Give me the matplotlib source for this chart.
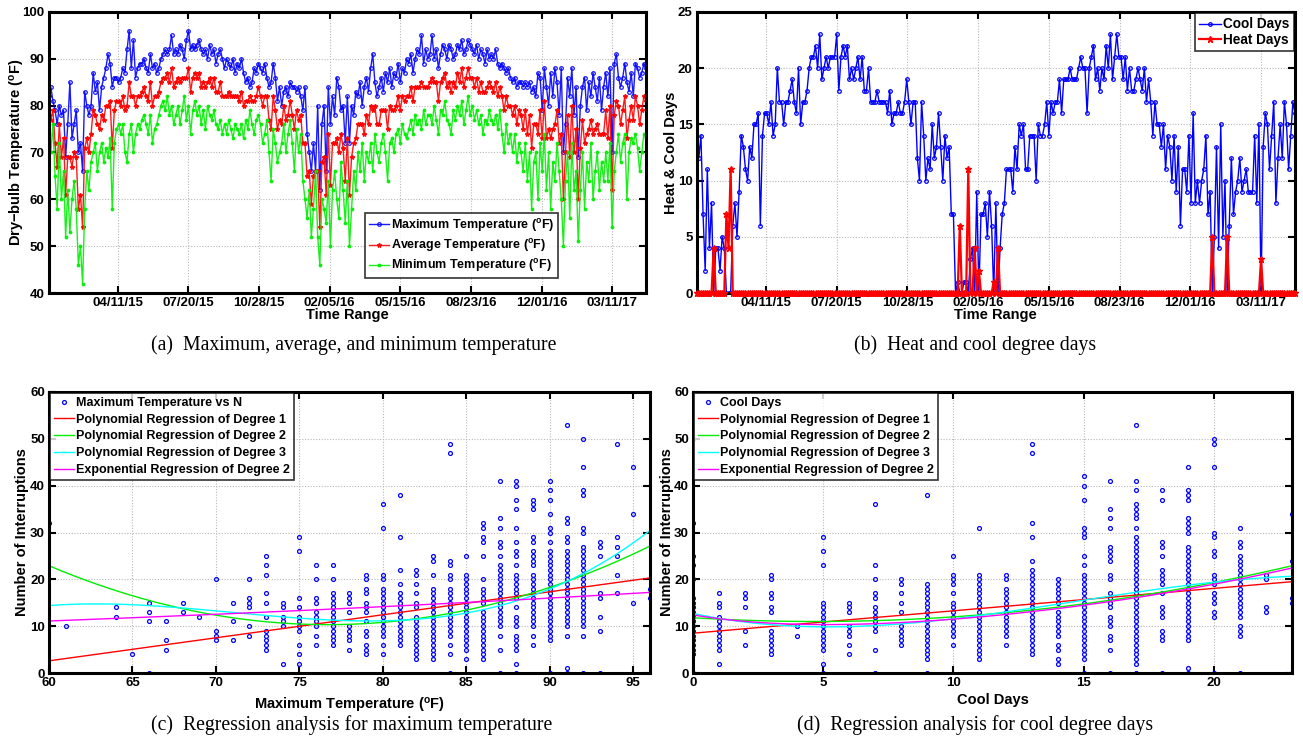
import numpy as np
import matplotlib
matplotlib.use("Agg")
import matplotlib.pyplot as plt

# ---------------- data ----------------
date_start = "2015-01-03"
step_days = 3

tmax = [82,84,81,79,76,80,78,79,69,76,
        85,73,76,79,70,72,66,83,80,78,
        80,87,83,85,79,84,86,88,91,89,
        84,86,86,85,86,88,87,92,96,88,
        94,86,88,89,89,90,88,87,91,88,
        89,87,88,90,91,92,91,92,95,91,
        92,91,93,92,90,94,96,92,93,92,
        93,94,92,91,92,90,93,91,92,89,
        91,92,90,88,90,89,88,90,87,89,
        88,90,87,85,86,84,85,88,87,89,
        88,87,89,86,84,85,89,86,81,84,
        80,83,84,82,85,84,84,83,84,82,
        79,84,74,70,66,72,66,80,62,76,
        80,66,84,76,82,78,86,84,79,80,
        72,82,72,80,78,83,82,85,80,84,
        86,83,88,91,85,82,84,86,83,87,
        85,88,84,87,86,89,85,88,87,90,
        89,91,87,90,92,91,95,89,92,90,
        91,95,90,92,88,91,93,92,90,93,
        92,90,91,93,92,94,91,92,94,93,
        92,91,93,90,92,91,89,92,90,91,
        90,92,89,88,89,88,87,88,86,85,
        86,84,85,85,84,85,84,85,83,84,
        82,87,86,79,88,84,80,87,82,88,
        85,78,88,70,76,86,82,88,78,84,
        69,80,84,86,79,85,82,87,84,81,
        86,79,84,87,82,88,70,89,91,86,
        84,86,89,85,83,87,82,89,88,86,
        87,89,88]

tmin = [74,70,76,65,58,72,60,66,52,62,
        53,60,64,58,46,50,42,58,66,62,
        68,70,72,66,70,72,68,71,69,73,
        58,72,75,76,74,76,70,68,74,76,
        70,74,76,75,77,78,76,74,78,72,
        75,76,78,80,81,79,82,78,80,76,
        78,80,76,79,82,77,80,74,79,81,
        78,80,76,79,75,80,78,77,79,76,
        75,77,74,76,74,77,75,73,76,75,
        74,76,73,77,75,79,76,74,77,78,
        76,72,74,77,70,64,75,72,68,70,
        72,76,70,74,77,72,66,75,70,74,
        64,60,56,62,52,58,66,52,46,60,
        58,55,64,50,62,66,60,56,68,62,
        55,64,50,58,66,62,70,66,72,64,
        70,68,72,66,74,70,68,72,74,70,
        64,72,73,70,74,75,72,76,74,73,
        75,77,74,78,76,77,75,79,76,78,
        78,76,80,77,74,79,78,81,77,76,
        74,79,77,80,78,81,76,79,82,78,
        80,77,79,76,78,74,77,76,79,77,
        76,78,75,79,74,70,76,72,74,70,
        74,68,72,70,66,72,64,70,58,68,
        70,60,72,66,74,62,70,58,68,64,
        72,66,60,50,64,70,56,72,62,66,
        51,62,70,58,68,64,72,60,66,70,
        62,68,64,70,64,72,54,66,70,74,
        68,72,74,60,70,73,72,74,71,66,
        70,74,73]

base_temp = 65
tick_dates = ["2015-04-11", "2015-07-20", "2015-10-28", "2016-02-05",
              "2016-05-15", "2016-08-23", "2016-12-01", "2017-03-11"]
tick_labels = ["04/11/15", "07/20/15", "10/28/15", "02/05/16",
               "05/15/16", "08/23/16", "12/01/16", "03/11/17"]

# scatter (c): max temperature vs number of interruptions
c_temps = [60, 61, 64, 65, 66, 67, 68, 69, 70, 71, 72, 73, 74, 75, 76, 77, 78, 79,
           80, 81, 82, 83, 84, 85, 86, 87, 88, 89, 90, 91, 92, 93, 94, 95, 96]
c_counts = [
    [32], [10], [14, 12], [4], [15, 13, 11, 0], [11, 7, 5], [15, 13], [12],
    [20, 9, 8, 7], [15, 11, 7], [20, 16, 15, 14, 10, 8],
    [25, 23, 21, 17, 15, 12, 9, 8, 7, 6, 5],
    [15, 14, 12, 11, 10, 2],
    [29, 26, 16, 14, 12, 11, 10, 9, 6, 4, 2],
    [23, 20, 16, 15, 13, 12, 11, 10, 8, 6],
    [23, 20, 17, 16, 15, 14, 13, 12, 11, 10, 9, 8, 7, 6],
    [17, 16, 15, 13, 10, 9, 8, 7, 5],
    [21, 20, 18, 17, 15, 14, 13, 11, 9, 8, 6, 5, 4],
    [36, 31, 21, 20, 18, 17, 16, 15, 14, 13, 12, 11, 10, 9, 8, 6, 4],
    [38, 29, 22, 19, 17, 16, 15, 14, 13, 12, 11, 10, 9, 8, 7, 6],
    [22, 21, 19, 17, 15, 14, 12, 11, 10, 9, 8, 7, 6, 5, 4, 3],
    [25, 24, 21, 18, 17, 16, 15, 14, 13, 12, 11, 10, 9, 8, 7, 6, 5, 4, 3],
    [49, 47, 24, 23, 21, 20, 18, 17, 16, 15, 14, 13, 12, 11, 10, 9, 8, 6, 4, 0],
    [25, 21, 20, 19, 18, 17, 16, 15, 14, 13, 12, 11, 10, 9, 8, 7, 6, 5, 3],
    [32, 31, 29, 28, 25, 20, 18, 17, 16, 15, 13, 12, 11, 10, 9, 8, 7, 6, 5, 4, 3],
    [41, 33, 31, 28, 27, 25, 23, 22, 21, 20, 19, 18, 17, 16, 15, 14, 13, 12, 11, 10, 8, 5, 0],
    [41, 40, 37, 35, 31, 28, 26, 25, 23, 21, 20, 19, 18, 17, 16, 14, 12, 11, 10, 8, 7, 6, 5, 2, 0],
    [37, 36, 35, 29, 28, 26, 25, 24, 23, 21, 20, 19, 18, 17, 16, 15, 14, 13, 12, 11, 10, 8, 6],
    [41, 39, 37, 34, 31, 30, 28, 26, 25, 24, 23, 22, 21, 20, 19, 18, 17, 16, 15, 14, 13, 12, 11, 10, 9, 8, 7, 0],
    [53, 33, 32, 29, 28, 26, 25, 24, 23, 22, 21, 20, 19, 18, 17, 16, 15, 14, 13, 12, 11, 10, 8, 1, 0],
    [50, 44, 39, 38, 31, 30, 27, 26, 25, 24, 23, 22, 21, 20, 19, 18, 17, 16, 15, 14, 13, 12, 11, 10, 8, 0],
    [28, 27, 25, 17, 16, 12, 9, 0],
    [49, 29, 27, 25, 21, 17],
    [44, 34, 15],
    [18, 16],
]

# scatter (d): cool days vs number of interruptions
d_days = list(range(0, 24))
d_counts = [
    [50, 32, 25, 23, 20, 16, 15, 14, 13, 12, 11, 10, 9, 8, 7, 6, 5, 4, 0],
    [17, 15, 14, 12, 11, 10, 9, 8, 7, 6, 5, 2],
    [17, 16, 14, 9, 6],
    [21, 20, 17, 16, 14, 13, 9, 8, 7, 6, 5, 4],
    [10, 8],
    [29, 26, 23, 15, 14, 13, 12, 11, 10, 9, 8, 7, 6, 5, 2, 0],
    [15, 14, 13, 10, 9, 8, 6, 4],
    [36, 23, 20, 17, 16, 14, 13, 12, 11, 10, 9, 5, 0],
    [20, 19, 17, 15, 13, 10, 9, 8, 7, 6],
    [38, 19, 18, 17, 16, 15, 14, 13, 12, 11, 10, 9, 8, 7, 6, 5, 4, 3, 0],
    [25, 21, 20, 19, 17, 15, 14, 13, 12, 11, 10, 9, 8, 6],
    [31, 21, 20, 19, 18, 17, 16, 15, 14, 13, 12, 11, 10, 9, 8, 7, 6, 5, 4, 3],
    [21, 20, 18, 17, 16, 15, 14, 13, 12, 11, 10, 9, 8, 6],
    [49, 47, 32, 29, 24, 22, 21, 20, 19, 18, 17, 16, 15, 14, 13, 12, 11, 10, 9, 8, 7, 6, 5, 4],
    [20, 19, 18, 17, 16, 15, 13, 12, 11, 10, 9, 8, 6, 5, 3, 2],
    [42, 40, 37, 31, 30, 29, 25, 23, 21, 20, 19, 18, 17, 16, 15, 14, 13, 12, 11, 10, 9, 8, 7, 6, 5, 4, 3, 0],
    [41, 35, 33, 31, 27, 26, 25, 24, 21, 20, 17, 16, 15, 14, 12, 11, 10, 8, 7, 5, 0],
    [53, 41, 39, 36, 35, 34, 33, 31, 29, 28, 27, 26, 25, 24, 23, 22, 21, 20, 19, 18, 17, 16,
     15, 14, 13, 12, 11, 10, 9, 8, 7, 6, 5, 4, 3, 2, 0],
    [39, 37, 28, 27, 25, 22, 21, 20, 19, 17, 14, 13, 12, 9, 8, 7, 0],
    [44, 39, 38, 37, 33, 32, 31, 30, 27, 26, 25, 24, 23, 22, 21, 20, 19, 18, 17, 16, 15, 14,
     13, 12, 11, 10, 9, 8, 7, 1, 0],
    [50, 49, 44, 30, 29, 26, 25, 21, 20, 19, 17, 16, 15, 13, 12, 0],
    [31, 28, 27, 25, 24, 23, 22, 21, 20, 19, 18, 17, 16, 15, 14, 13, 12, 10, 9, 8, 0],
    [21, 20, 14, 13],
    [34, 24, 16, 15, 0],
]

# regression curves (anchor values / coefficients)
c_deg1_x, c_deg1_y = [60, 96], [2.6, 20.3]
c_deg2_x, c_deg2_y = [60, 78, 96], [22.9, 10.4, 27.1]
c_deg3_x = [60, 65, 70, 75, 80, 85, 90, 96]
c_deg3_y = [14.4, 14.5, 13.5, 11.5, 11.2, 12.7, 18.1, 30.4]
c_exp2 = [5.35, 0.01217, 0.0, 0.0]          # a*exp(b*x) + c*exp(d*x)

d_deg1_x, d_deg1_y = [0, 23], [8.5, 19.5]
d_deg2_x, d_deg2_y = [0, 5, 23], [11.8, 11.0, 22.9]
d_deg3_x = [0, 6, 10, 15, 20, 23]
d_deg3_y = [12.7, 10.0, 11.5, 15.5, 19.5, 20.6]
d_exp2 = [6.4, -0.2, 6.0, 0.0572]

# ---------------- style ----------------
plt.rcParams["font.family"] = ["Liberation Sans", "DejaVu Sans"]
plt.rcParams["font.weight"] = "bold"
plt.rcParams["axes.labelweight"] = "bold"
plt.rcParams["mathtext.fontset"] = "custom"
plt.rcParams["mathtext.rm"] = "Liberation Sans:bold"
plt.rcParams["mathtext.it"] = "Liberation Sans:bold"
plt.rcParams["mathtext.default"] = "rm"

BLUE, RED, GREEN, CYAN, MAG = "#0000ff", "#ff0000", "#00ee00", "#00ffff", "#ff00ff"
W, H = 1303, 745
fig = plt.figure(figsize=(W / 100, H / 100), dpi=100)


def box(l, t, r, b):
    return fig.add_axes([l / W, 1 - b / H, (r - l) / W, (b - t) / H])


def matlab(ax):
    for s in ax.spines.values():
        s.set_linewidth(2.2)
    ax.tick_params(direction="in", length=5, width=1.5, top=True, right=True,
                   labelsize=9.5, pad=3)
    for lab in ax.get_xticklabels() + ax.get_yticklabels():
        lab.set_fontweight("bold")
    ax.grid(True, linestyle=(0, (1, 1.5)), color="#b8b8b8", linewidth=0.8)
    ax.set_axisbelow(True)


def legend(ax, pad=0.2, size=9, spacing=0.25, **kw):
    lg = ax.legend(fontsize=size, frameon=True, fancybox=False, borderpad=0.3,
                   handlelength=1.6, handletextpad=0.2, labelspacing=spacing,
                   borderaxespad=pad, **kw)
    lg.get_frame().set_edgecolor("black")
    lg.get_frame().set_linewidth(1.2)
    lg.set_zorder(5)
    for t in lg.get_texts():
        t.set_fontweight("bold")
    return lg


tmax_a = np.array(tmax, dtype=float)
tmin_a = np.array(tmin, dtype=float)
tavg_a = np.floor((tmax_a + tmin_a) / 2 + 0.5)
cool = np.maximum(tavg_a - base_temp, 0)
heat = np.maximum(base_temp - tavg_a, 0)
dates = np.datetime64(date_start) + np.arange(len(tmax)) * np.timedelta64(step_days, "D")
xlim_dates = (dates[0], dates[-1])
tdates = np.array(tick_dates, dtype="datetime64[D]")

deg = r"($^{o}$F)"

# ---- (a)
ax = box(48.7, 12, 646, 293)
ax.plot(dates, tmax_a, "-o", color=BLUE, lw=1, ms=2.6, mfc="none", mew=0.9, alpha=0.9,
        label="Maximum Temperature " + deg)
ax.plot(dates, tavg_a, "-*", color=RED, lw=1, ms=3.2, alpha=0.9,
        label="Average Temperature " + deg)
ax.plot(dates, tmin_a, color=GREEN, marker=".", ls="-", lw=1, ms=3.5, alpha=0.9,
        label="Minimum Temperature " + deg)
ax.set_xlim(*xlim_dates)
ax.set_ylim(40, 100)
ax.set_yticks(range(40, 101, 10))
ax.set_xticks(tdates)
ax.set_xticklabels(tick_labels)
ax.set_ylabel("Dry\u2212bulb Temperature " + deg, fontsize=10.5, labelpad=-3)
ax.set_xlabel("Time Range", fontsize=10.5, labelpad=-1)
matlab(ax)
legend(ax, loc="lower left", bbox_to_anchor=(0.525, 0.045))

# ---- (b)
ax = box(696.7, 12, 1295, 293)
ax.plot(dates, cool, "-o", color=BLUE, lw=1, ms=2.6, mfc="none", mew=0.9, label="Cool Days")
ax.plot(dates, heat, "-*", color=RED, lw=1.6, ms=4.5, label="Heat Days",
        clip_on=False, zorder=3)
ax.set_xlim(*xlim_dates)
ax.set_ylim(0, 25)
ax.set_yticks(range(0, 26, 5))
ax.set_xticks(tdates)
ax.set_xticklabels(tick_labels)
ax.set_ylabel("Heat & Cool Days", fontsize=10.5, labelpad=0)
ax.set_xlabel("Time Range", fontsize=10.5, labelpad=-1)
matlab(ax)
legend(ax, pad=0.1, size=9.8, spacing=0.1, loc="upper right")


def scatter_panel(ax, xs, cols, xlim, xticks, xlabel, first_label, reg, ylpad, xlpad):
    px = np.concatenate([[x] * len(c) for x, c in zip(xs, cols)])
    py = np.concatenate([np.array(c, dtype=float) for c in cols])
    ax.plot(px, py, "o", ls="none", ms=2.8, mfc="none", mec=BLUE, mew=0.9, label=first_label)
    xx = np.linspace(xlim[0], xlim[1], 300)
    (x1, y1), (x2, y2), (x3, y3), e = reg
    ax.plot(xx, np.polyval(np.polyfit(x1, y1, 1), xx), color=RED, lw=1,
            label="Polynomial Regression of Degree 1")
    ax.plot(xx, np.polyval(np.polyfit(x2, y2, 2), xx), color=GREEN, lw=1,
            label="Polynomial Regression of Degree 2")
    ax.plot(xx, np.polyval(np.polyfit(x3, y3, 3), xx), color=CYAN, lw=1,
            label="Polynomial Regression of Degree 3")
    ax.plot(xx, e[0] * np.exp(e[1] * xx) + e[2] * np.exp(e[3] * xx), color=MAG, lw=1,
            label="Exponential Regression of Degree 2")
    ax.set_xlim(*xlim)
    ax.set_ylim(0, 60)
    ax.set_yticks(range(0, 61, 10))
    ax.set_xticks(xticks)
    ax.set_ylabel("Number of Interruptions", fontsize=10.5, labelpad=ylpad)
    ax.set_xlabel(xlabel, fontsize=10.5, labelpad=xlpad)
    matlab(ax)
    legend(ax, pad=0.1, spacing=0.38, loc="upper left")


ax = box(49, 392, 650, 673)
scatter_panel(ax, c_temps, c_counts, (60, 96), range(60, 96, 5),
              "Maximum Temperature " + deg, "Maximum Temperature vs N",
              ((c_deg1_x, c_deg1_y), (c_deg2_x, c_deg2_y), (c_deg3_x, c_deg3_y), c_exp2),
              1, 5)

ax = box(693, 392, 1292, 673)
scatter_panel(ax, d_days, d_counts, (0, 23), range(0, 21, 5),
              "Cool Days", "Cool Days",
              ((d_deg1_x, d_deg1_y), (d_deg2_x, d_deg2_y), (d_deg3_x, d_deg3_y), d_exp2),
              0, 3)

# captions
cap = dict(fontsize=14.2, family="Liberation Serif", fontweight="normal", ha="center", va="center")
fig.text(354 / W, 1 - 345 / H, "(a)  Maximum, average, and minimum temperature", **cap)
fig.text(975 / W, 1 - 345 / H, "(b)  Heat and cool degree days", **cap)
fig.text(352 / W, 1 - 725 / H, "(c)  Regression analysis for maximum temperature", **cap)
fig.text(975 / W, 1 - 725 / H, "(d)  Regression analysis for cool degree days", **cap)

fig.savefig("out.png", dpi=100)
